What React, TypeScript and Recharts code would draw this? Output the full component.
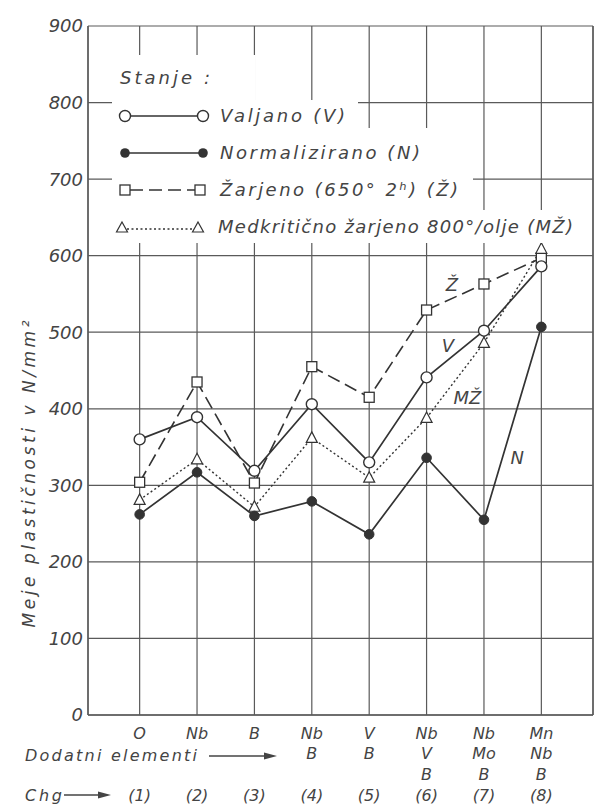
import React from "react";
import {
  LineChart,
  Line,
  XAxis,
  YAxis,
  CartesianGrid,
  ReferenceLine,
  ReferenceDot,
} from "recharts";

// ---------- data ----------
const chgNumbers = [1, 2, 3, 4, 5, 6, 7, 8];
const elementsRow1 = ["O", "Nb", "B", "Nb", "V", "Nb", "Nb", "Mn"];
const elementsRow2 = ["", "", "", "B", "B", "V", "Mo", "Nb"];
const elementsRow3 = ["", "", "", "", "", "B", "B", "B"];
const chgLabels = ["(1)", "(2)", "(3)", "(4)", "(5)", "(6)", "(7)", "(8)"];

const valjano = [360, 389, 319, 406, 330, 441, 502, 586];
const normalizirano = [262, 317, 260, 279, 236, 336, 255, 507];
const zarjeno = [304, 435, 303, 455, 415, 529, 563, 597];
const medkriticno = [281, 334, 272, 362, 310, 388, 486, 609];

const yTicks = [0, 100, 200, 300, 400, 500, 600, 700, 800, 900];

const curveLabelText = ["Ž", "V", "MŽ", "N"];
const curveLabelX = [6.44, 6.37, 6.71, 7.58];
const curveLabelY = [562, 483, 415, 336];

const data = chgNumbers.map((c, i) => ({
  chg: c,
  V: valjano[i],
  N: normalizirano[i],
  Z: zarjeno[i],
  MZ: medkriticno[i],
}));

// ---------- styles ----------
const INK = "#333";
const TEXT = "#444";
const GRID = "#5a5a5a";
const FONT = "'DejaVu Sans', sans-serif";

const makeDot = (kind: string) => (props: any) => {
  const { cx, cy, index } = props;
  const key = `${kind}-${index}`;
  if (cx == null || cy == null) return <g key={key} />;
  if (kind === "open")
    return <circle key={key} cx={cx} cy={cy} r={5.5} fill="#fff" stroke={INK} strokeWidth={1.4} />;
  if (kind === "filled")
    return <circle key={key} cx={cx} cy={cy} r={4.8} fill={INK} stroke={INK} strokeWidth={1} />;
  if (kind === "square")
    return <rect key={key} x={cx - 5} y={cy - 5} width={10} height={10} fill="#fff" stroke={INK} strokeWidth={1.3} />;
  return (
    <path
      key={key}
      d={`M${cx},${cy - 6} L${cx + 5.5},${cy + 4.5} L${cx - 5.5},${cy + 4.5} Z`}
      fill="#fff"
      stroke={INK}
      strokeWidth={1.2}
    />
  );
};

const YTick = (props: any) => {
  const { x, y, payload } = props;
  return (
    <text
      x={83}
      y={y}
      dy="0.36em"
      textAnchor="end"
      fontFamily={FONT}
      fontStyle="italic"
      fontSize={18}
      fill={TEXT}
    >
      {payload.value}
    </text>
  );
};

const XTick = (props: any) => {
  const { x, y, payload } = props;
  const i = chgNumbers.indexOf(payload.value);
  if (i < 0) return <g />;
  const rows = [elementsRow1[i], elementsRow2[i], elementsRow3[i]];
  const offs = [18, 38, 59];
  return (
    <g>
      {rows.map((t, k) =>
        t ? (
          <text
            key={k}
            x={x}
            y={y + offs[k]}
            dy="0.36em"
            textAnchor="middle"
            fontFamily={FONT}
            fontStyle="italic"
            fontSize={16}
            fill={TEXT}
          >
            {t}
          </text>
        ) : null
      )}
      <text
        x={x}
        y={y + 80}
        dy="0.36em"
        textAnchor="middle"
        fontFamily={FONT}
        fontStyle="italic"
        fontSize={16}
        fill={TEXT}
      >
        {chgLabels[i]}
      </text>
    </g>
  );
};

const CurveLabel = (text: string) => (props: any) => (
  <text
    x={props.cx}
    y={props.cy}
    dy="0.36em"
    textAnchor="middle"
    fontFamily={FONT}
    fontStyle="italic"
    fontSize={18}
    fill={TEXT}
  >
    {text}
  </text>
);

const legendText = (x: number, y: number, s: string, len: number, size = 18) => (
  <text
    x={x}
    y={y}
    dy="0.36em"
    fontFamily={FONT}
    fontStyle="italic"
    fontSize={size}
    fill={TEXT}
    textLength={len}
    lengthAdjust="spacing"
  >
    {s}
  </text>
);

const Overlay = () => (
  <svg
    width={595}
    height={805}
    style={{ position: "absolute", left: 0, top: 0, pointerEvents: "none" }}
  >
    {/* legend white masks */}
    <rect x={112} y={55} width={143} height={45} fill="#fff" />
    <rect x={112} y={100} width={246} height={28} fill="#fff" />
    <rect x={112} y={128} width={360} height={42} fill="#fff" />
    <rect x={112} y={170} width={361} height={40} fill="#fff" />
    <rect x={112} y={210} width={466} height={33} fill="#fff" />

    {legendText(120, 78, "Stanje :", 90, 18)}

    {/* V */}
    <line x1={125} y1={116} x2={203} y2={116} stroke={INK} strokeWidth={1.6} />
    <circle cx={125} cy={116} r={5.5} fill="#fff" stroke={INK} strokeWidth={1.4} />
    <circle cx={203} cy={116} r={5.5} fill="#fff" stroke={INK} strokeWidth={1.4} />
    {legendText(220, 116, "Valjano (V)", 125)}

    {/* N */}
    <line x1={125} y1={153} x2={203} y2={153} stroke={INK} strokeWidth={1.6} />
    <circle cx={125} cy={153} r={4.8} fill={INK} />
    <circle cx={203} cy={153} r={4.8} fill={INK} />
    {legendText(220, 153, "Normalizirano (N)", 200)}

    {/* Z */}
    <line x1={130} y1={190} x2={195} y2={190} stroke={INK} strokeWidth={1.5} strokeDasharray="13 6" />
    <rect x={120} y={185} width={10} height={10} fill="#fff" stroke={INK} strokeWidth={1.3} />
    <rect x={195} y={185} width={10} height={10} fill="#fff" stroke={INK} strokeWidth={1.3} />
    {legendText(220, 190, "Žarjeno (650° 2ʰ) (Ž)", 238)}

    {/* MZ */}
    <line x1={127} y1={229} x2={193} y2={229} stroke={INK} strokeWidth={1.3} strokeDasharray="2 2.5" />
    <path d="M122,222 L127.5,232 L116.5,232 Z" fill="#fff" stroke={INK} strokeWidth={1.2} />
    <path d="M198,222 L203.5,232 L192.5,232 Z" fill="#fff" stroke={INK} strokeWidth={1.2} />
    {legendText(218, 227, "Medkritično žarjeno 800°/olje (MŽ)", 355)}

    {/* y axis title */}
    <text
      transform="translate(29,474) rotate(-90)"
      textAnchor="middle"
      dy="0.36em"
      fontFamily={FONT}
      fontStyle="italic"
      fontSize={17}
      fill={TEXT}
      textLength={307}
      lengthAdjust="spacing"
    >
      Meje plastičnosti v N/mm²
    </text>

    {/* bottom captions */}
    {legendText(25, 755, "Dodatni elementi", 172, 16)}
    <line x1={209} y1={756} x2={268} y2={756} stroke={TEXT} strokeWidth={1.3} />
    <path d="M277,756 L264,752.5 L264,759.5 Z" fill={TEXT} />
    {legendText(25, 795, "Chg", 37, 16)}
    <line x1={64} y1={795} x2={102} y2={795} stroke={TEXT} strokeWidth={1.3} />
    <path d="M111,795 L98,791.5 L98,798.5 Z" fill={TEXT} />
  </svg>
);

export default function App() {
  return (
    <div
      style={{
        position: "absolute",
        left: 0,
        top: 0,
        width: 595,
        height: 805,
        background: "#fff",
        overflow: "hidden",
      }}
    >
      <LineChart
        width={595}
        height={805}
        data={data}
        margin={{ top: 26, right: 2, left: 28, bottom: 0 }}
      >
        <CartesianGrid
          stroke={GRID}
          strokeWidth={1.2}
          horizontal={true}
          vertical={true}
        />
        <XAxis
          dataKey="chg"
          type="number"
          domain={[0.1, 8.9]}
          ticks={chgNumbers}
          allowDataOverflow
          height={90}
          tickLine={false}
          tickSize={0}
          tickMargin={0}
          axisLine={{ stroke: GRID, strokeWidth: 1.4 }}
          tick={<XTick />}
          interval={0}
        />
        <YAxis
          type="number"
          domain={[0, 900]}
          ticks={yTicks}
          width={60}
          tickLine={false}
          axisLine={{ stroke: GRID, strokeWidth: 1.4 }}
          tick={<YTick />}
          interval={0}
        />
        <ReferenceLine x={8.9} stroke={GRID} strokeWidth={1.4} />
        <Line
          dataKey="Z"
          type="linear"
          stroke={INK}
          strokeWidth={1.6}
          strokeDasharray="13 6"
          dot={makeDot("square")}
          isAnimationActive={false}
        />
        <Line
          dataKey="MZ"
          type="linear"
          stroke={INK}
          strokeWidth={1.4}
          strokeDasharray="2 2.5"
          dot={makeDot("triangle")}
          isAnimationActive={false}
        />
        <Line
          dataKey="N"
          type="linear"
          stroke={INK}
          strokeWidth={1.7}
          dot={makeDot("filled")}
          isAnimationActive={false}
        />
        <Line
          dataKey="V"
          type="linear"
          stroke={INK}
          strokeWidth={1.7}
          dot={makeDot("open")}
          isAnimationActive={false}
        />
        {curveLabelText.map((t, i) => (
          <ReferenceDot
            key={t}
            x={curveLabelX[i]}
            y={curveLabelY[i]}
            r={1}
            ifOverflow="visible"
            shape={CurveLabel(t)}
          />
        ))}
      </LineChart>
      <Overlay />
    </div>
  );
}
